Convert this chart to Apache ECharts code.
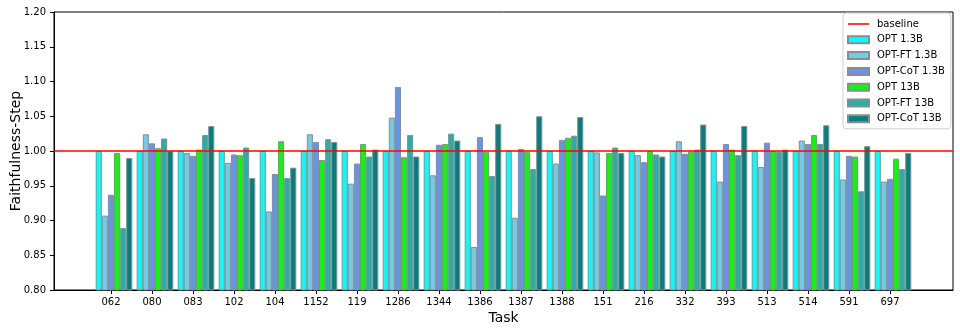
<!DOCTYPE html>
<html>
<head>
<meta charset="utf-8">
<script src="https://cdn.jsdelivr.net/npm/echarts@6/dist/echarts.min.js"></script>
<style>
html,body{margin:0;padding:0;background:#fff;}
#chart{width:960px;height:332px;}
</style>
</head>
<body>
<div id="chart"></div>
<script>
var tasks = ['062','080','083','102','104','1152','119','1286','1344','1386','1387','1388','151','216','332','393','513','514','591','697'];
var seriesNames = ['OPT 1.3B','OPT-FT 1.3B','OPT-CoT 1.3B','OPT 13B','OPT-FT 13B','OPT-CoT 13B'];
var opt13 =    [1.000,1.000,1.000,1.000,1.000,1.000,1.000,1.000,1.000,1.000,1.000,1.000,1.000,1.000,1.000,1.000,1.000,1.000,1.000,1.000];
var optFt13 =  [0.907,1.024,0.997,0.983,0.913,1.024,0.953,1.048,0.965,0.862,0.904,0.982,0.998,0.994,1.014,0.956,0.977,1.015,0.959,0.956];
var optCot13 = [0.937,1.011,0.993,0.995,0.967,1.013,0.982,1.092,1.009,1.020,1.003,1.016,0.936,0.984,0.996,1.010,1.012,1.010,0.993,0.960];
var opt130 =   [0.997,1.004,1.002,0.994,1.014,0.987,1.010,0.991,1.010,0.999,0.999,1.019,0.997,1.000,0.999,1.002,1.000,1.023,0.992,0.989];
var optFt130 = [0.889,1.018,1.023,1.005,0.961,1.017,0.992,1.023,1.025,0.964,0.974,1.022,1.005,0.995,1.002,0.994,0.999,1.010,0.942,0.974];
var optCot130 =[0.990,1.000,1.036,0.961,0.976,1.013,1.002,0.992,1.015,1.039,1.050,1.049,0.997,0.992,1.038,1.036,1.002,1.037,1.007,0.997];
var baselineValue = 1.0;
var yTicks = [0.80,0.85,0.90,0.95,1.00,1.05,1.10,1.15,1.20];

var colors = ['#00FFFF','#6ECDEB','#6495ED','#00FF00','#20B2AA','#008080'];
var values = [opt13, optFt13, optCot13, opt130, optFt130, optCot130];
var font = 'DejaVu Sans';

var barSeries = seriesNames.map(function(n, i){
  return {
    name: n, type: 'bar', xAxisIndex: 1, yAxisIndex: 1,
    data: values[i], barWidth: 6.1, barGap: '0%',
    itemStyle: {color: colors[i], borderColor: '#8c8c8c', borderWidth: 1},
    emphasis: {disabled: true}, z: 2
  };
});

var lineIcon = 'path://M0,0L0.01,0L0,0.01Z M0,2.75H21V4.25H0Z M20.99,7L21,7L21,6.99Z';
var legendData = [{name: 'baseline', icon: lineIcon, itemStyle: {color: '#ff0000', borderWidth: 0}}]
  .concat(seriesNames.map(function(n){ return {name: n, icon: 'rect'}; }));

var chart = echarts.init(document.getElementById('chart'), null, {renderer: 'canvas'});
chart.setOption({
  animation: false,
  backgroundColor: '#fff',
  grid: [
    {left: 54, right: 7, top: 12, bottom: 42, show: true, borderColor: '#000', borderWidth: 1, backgroundColor: 'transparent', containLabel: false, outerBoundsMode: 'none'},
    {left: 93.5, width: 820, top: 12, bottom: 42, containLabel: false, outerBoundsMode: 'none'},
    {left: 90.5, width: 820, top: 12, bottom: 42, containLabel: false, outerBoundsMode: 'none'}
  ],
  xAxis: [
    {gridIndex: 0, type: 'value', min: 0, max: 1, axisLabel: {show: false}, axisTick: {show: false}, splitLine: {show: false},
     axisLine: {show: true, lineStyle: {color: '#000', width: 1}},
     name: 'Task', nameLocation: 'middle', nameGap: 21, nameMoveOverlap: false, nameTextStyle: {fontFamily: font, fontSize: 14, color: '#000'}},
    {gridIndex: 1, type: 'category', data: tasks, show: false},
    {gridIndex: 2, type: 'category', data: tasks, axisLine: {show: false},
     axisTick: {show: true, alignWithLabel: true, length: 4, lineStyle: {color: '#000'}},
     axisLabel: {fontFamily: font, fontSize: 10, color: '#000', margin: 7, interval: 0}}
  ],
  yAxis: [
    {gridIndex: 0, type: 'value', min: 0.8, max: 1.2, interval: 0.05, splitLine: {show: false},
     axisLine: {show: true, lineStyle: {color: '#000', width: 1}},
     axisTick: {show: true, length: 4, lineStyle: {color: '#000'}},
     axisLabel: {fontFamily: font, fontSize: 10, color: '#000', margin: 8, formatter: function(v){ return v.toFixed(2); }},
     name: 'Faithfulness-Step', nameLocation: 'middle', nameGap: 31, nameMoveOverlap: false, nameTextStyle: {fontFamily: font, fontSize: 14, color: '#000'}},
    {gridIndex: 1, type: 'value', min: 0.8, max: 1.2, show: false},
    {gridIndex: 2, type: 'value', min: 0.8, max: 1.2, show: false}
  ],
  legend: {
    orient: 'vertical', left: 843, top: 13,
    padding: [6, 6, 5, 4], itemWidth: 21, itemHeight: 7, itemGap: 5.8,
    backgroundColor: '#fff', borderColor: '#d0d0d0', borderWidth: 1, borderRadius: 3,
    textStyle: {fontFamily: font, fontSize: 10, color: '#000', padding: [0, 0, 0, 3]},
    data: legendData, z: 10
  },
  series: [
    {name: 'baseline', type: 'line', xAxisIndex: 0, yAxisIndex: 0, data: [[0, baselineValue], [1, baselineValue]],
     symbol: 'none', lineStyle: {color: '#ff0000', width: 1.5}, itemStyle: {color: '#ff0000'}, z: 5, silent: true}
  ].concat(barSeries)
});
</script>
</body>
</html>
